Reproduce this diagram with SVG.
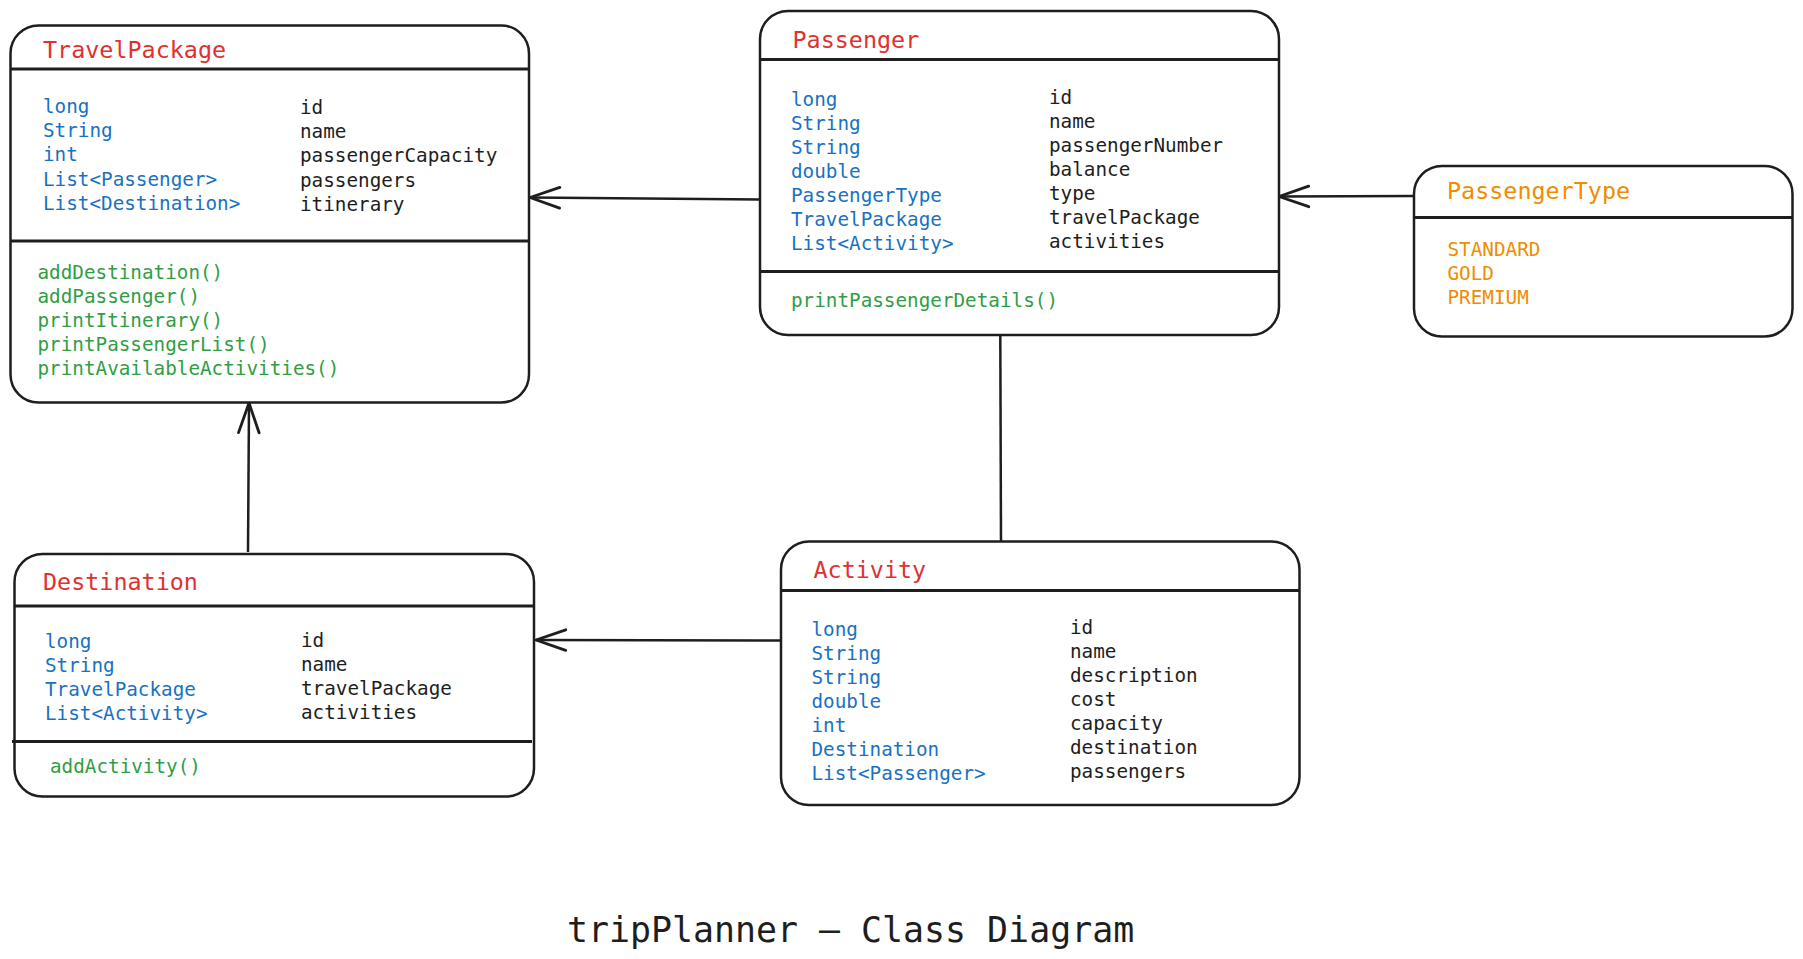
<svg xmlns="http://www.w3.org/2000/svg" width="1803" height="959" viewBox="0 0 1803 959">
<style>
.box{fill:#ffffff;stroke:#1e1e1e;stroke-width:2.5}
.sep{stroke:#1e1e1e;stroke-width:3;fill:none}
.conn{stroke:#1e1e1e;stroke-width:2.5;fill:none}
text{font-family:"DejaVu Sans Mono","Liberation Mono",monospace}
.title{font-size:23.4px;fill:#e03131}
.enumt{font-size:23.4px;fill:#f08c00}
.ty{font-size:19.3px;fill:#1971c2}
.nm{font-size:19.3px;fill:#1e1e1e}
.me{font-size:19.3px;fill:#2f9e44}
.en{font-size:19.3px;fill:#f08c00}
.dtitle{font-size:34.9px;fill:#1e1e1e}
</style>
<defs>
<marker id="arr" markerUnits="userSpaceOnUse" orient="auto" refX="0" refY="0" markerWidth="40" markerHeight="40" viewBox="-30 -15 35 30" overflow="visible">
<path d="M-26,-9 L0,0 L-26,9" fill="none" stroke="#1e1e1e" stroke-width="2.5" stroke-linecap="round" stroke-linejoin="round"/>
</marker>
</defs>
<rect width="1803" height="959" fill="#ffffff"/>

<g id="connectors">
<path class="conn" d="M760,199.5 L530,197.5" marker-end="url(#arr)"/>
<path class="conn" d="M1414,196 L1279,196.5" marker-end="url(#arr)"/>
<path class="conn" d="M248,552 L249,403" marker-end="url(#arr)"/>
<path class="conn" d="M781,640.5 L536,640" marker-end="url(#arr)"/>
<path class="conn" d="M1000.3,335 L1001,543"/>
</g>

<g id="TravelPackage">
<rect class="box" x="10.5" y="25.5" width="518.5" height="377" rx="28"/>
<line class="sep" x1="10.5" y1="69" x2="529" y2="69"/>
<line class="sep" x1="10.5" y1="241" x2="529" y2="241"/>
<text class="title" x="43" y="58">TravelPackage</text>
<text class="ty" x="43" y="113">long</text>
<text class="ty" x="43" y="137.2">String</text>
<text class="ty" x="43" y="161.4">int</text>
<text class="ty" x="43" y="185.6">List&lt;Passenger&gt;</text>
<text class="ty" x="43" y="209.8">List&lt;Destination&gt;</text>
<text class="nm" x="300" y="114">id</text>
<text class="nm" x="300" y="138.2">name</text>
<text class="nm" x="300" y="162.4">passengerCapacity</text>
<text class="nm" x="300" y="186.6">passengers</text>
<text class="nm" x="300" y="210.8">itinerary</text>
<text class="me" x="37.5" y="278.5">addDestination()</text>
<text class="me" x="37.5" y="302.6">addPassenger()</text>
<text class="me" x="37.5" y="326.7">printItinerary()</text>
<text class="me" x="37.5" y="350.8">printPassengerList()</text>
<text class="me" x="37.5" y="374.9">printAvailableActivities()</text>
</g>

<g id="Passenger">
<rect class="box" x="760" y="11" width="519" height="324" rx="28"/>
<line class="sep" x1="760" y1="59.5" x2="1279" y2="59.5"/>
<line class="sep" x1="760" y1="271.5" x2="1279" y2="271.5"/>
<text class="title" x="792.5" y="47.5">Passenger</text>
<text class="ty" x="791" y="106">long</text>
<text class="ty" x="791" y="130">String</text>
<text class="ty" x="791" y="154">String</text>
<text class="ty" x="791" y="178">double</text>
<text class="ty" x="791" y="202">PassengerType</text>
<text class="ty" x="791" y="226">TravelPackage</text>
<text class="ty" x="791" y="250">List&lt;Activity&gt;</text>
<text class="nm" x="1049" y="103.5">id</text>
<text class="nm" x="1049" y="127.5">name</text>
<text class="nm" x="1049" y="151.5">passengerNumber</text>
<text class="nm" x="1049" y="175.5">balance</text>
<text class="nm" x="1049" y="199.5">type</text>
<text class="nm" x="1049" y="223.5">travelPackage</text>
<text class="nm" x="1049" y="247.5">activities</text>
<text class="me" x="791" y="307">printPassengerDetails()</text>
</g>

<g id="PassengerType">
<rect class="box" x="1414" y="166" width="378.5" height="170.5" rx="28"/>
<line class="sep" x1="1414" y1="217.5" x2="1792.5" y2="217.5"/>
<text class="enumt" x="1447" y="199">PassengerType</text>
<text class="en" x="1447.5" y="256">STANDARD</text>
<text class="en" x="1447.5" y="280">GOLD</text>
<text class="en" x="1447.5" y="304">PREMIUM</text>
</g>

<g id="Destination">
<rect class="box" x="14.5" y="554" width="519.5" height="242.5" rx="28"/>
<line class="sep" x1="14.5" y1="606" x2="534" y2="606"/>
<line class="sep" x1="12" y1="741.5" x2="532" y2="741.5"/>
<text class="title" x="43" y="589.5">Destination</text>
<text class="ty" x="45" y="647.5">long</text>
<text class="ty" x="45" y="671.5">String</text>
<text class="ty" x="45" y="695.5">TravelPackage</text>
<text class="ty" x="45" y="719.5">List&lt;Activity&gt;</text>
<text class="nm" x="301" y="647">id</text>
<text class="nm" x="301" y="671">name</text>
<text class="nm" x="301" y="695">travelPackage</text>
<text class="nm" x="301" y="719">activities</text>
<text class="me" x="50" y="773">addActivity()</text>
</g>

<g id="Activity">
<rect class="box" x="781" y="541.5" width="518.5" height="263.5" rx="28"/>
<line class="sep" x1="781" y1="590.5" x2="1299.5" y2="590.5"/>
<text class="title" x="813.5" y="577.5">Activity</text>
<text class="ty" x="811.5" y="636">long</text>
<text class="ty" x="811.5" y="660">String</text>
<text class="ty" x="811.5" y="684">String</text>
<text class="ty" x="811.5" y="708">double</text>
<text class="ty" x="811.5" y="732">int</text>
<text class="ty" x="811.5" y="756">Destination</text>
<text class="ty" x="811.5" y="780">List&lt;Passenger&gt;</text>
<text class="nm" x="1070" y="634">id</text>
<text class="nm" x="1070" y="658">name</text>
<text class="nm" x="1070" y="682">description</text>
<text class="nm" x="1070" y="706">cost</text>
<text class="nm" x="1070" y="730">capacity</text>
<text class="nm" x="1070" y="754">destination</text>
<text class="nm" x="1070" y="778">passengers</text>
</g>

<text class="dtitle" x="567" y="941.5">tripPlanner – Class Diagram</text>
</svg>
